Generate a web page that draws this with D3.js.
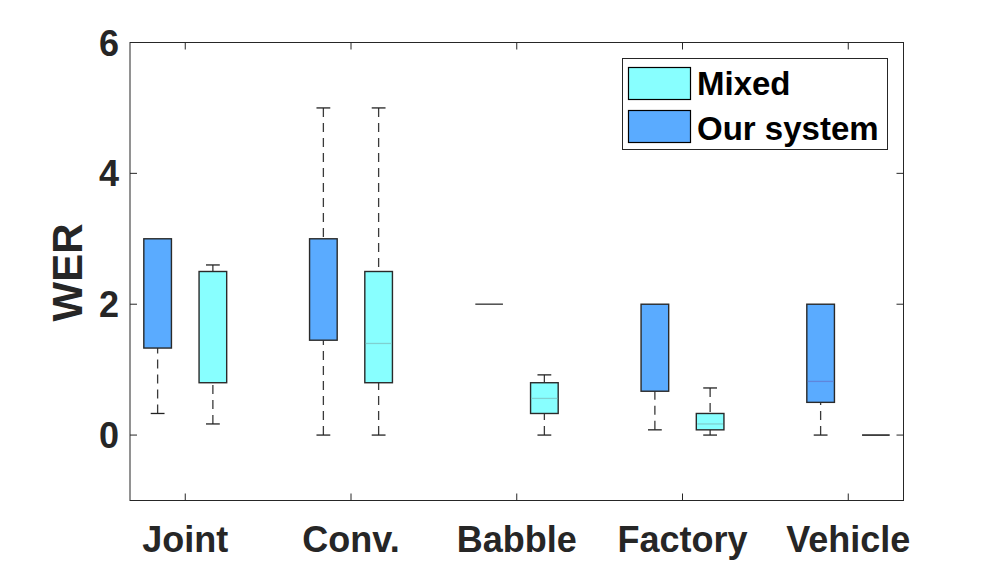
<!DOCTYPE html>
<html><head><meta charset="utf-8">
<script src="https://cdn.jsdelivr.net/npm/d3@7"></script>
<style>body{margin:0;background:#fff}svg{display:block}text{font-family:"Liberation Sans",Arial,sans-serif;font-weight:bold}</style>
</head><body>
<svg id="c" width="1000" height="563"></svg>
<script>
const categories = ["Joint", "Conv.", "Babble", "Factory", "Vehicle"];
const seriesNames = ["Our system", "Mixed"];
const legendOrder = ["Mixed", "Our system"];
// Our system
const ourLow  = [0.33, 0.00, 2.00, 0.08, 0.00];
const ourQ1   = [1.33, 1.45, 2.00, 0.67, 0.50];
const ourMed  = [3.00, 3.00, 2.00, 2.00, 0.82];
const ourQ3   = [3.00, 3.00, 2.00, 2.00, 2.00];
const ourHigh = [3.00, 5.00, 2.00, 2.00, 2.00];
// Mixed
const mixLow  = [0.17, 0.00, 0.00, 0.00, 0.00];
const mixQ1   = [0.80, 0.80, 0.33, 0.08, 0.00];
const mixMed  = [0.80, 1.40, 0.56, 0.17, 0.00];
const mixQ3   = [2.50, 2.50, 0.80, 0.33, 0.00];
const mixHigh = [2.60, 5.00, 0.92, 0.72, 0.00];
const yTicks = [0, 2, 4, 6];

const colors = {"Our system": "#5aabff", "Mixed": "#88ffff"};
const medColors = {"Our system": "#5f86dc", "Mixed": "#7fd0d0"};

const svg = d3.select("#c");
const L = 130, R = 903.5, T = 42.5, B = 500.5;
const x = d3.scaleLinear().domain([0.5, 14.5]).range([L, R]);
const y = d3.scaleLinear().domain([-1, 6]).range([B, T]);

const boxes = [];
categories.forEach((c, i) => {
  boxes.push({s: "Our system", pos: i * 3 + 1, lo: ourLow[i], q1: ourQ1[i], med: ourMed[i], q3: ourQ3[i], hi: ourHigh[i]});
  boxes.push({s: "Mixed", pos: i * 3 + 2, lo: mixLow[i], q1: mixQ1[i], med: mixMed[i], q3: mixQ3[i], hi: mixHigh[i]});
});

const bw = x(0.5) - x(0), cw = x(0.25) - x(0);
const g = svg.append("g");
boxes.forEach(b => {
  const cx = x(b.pos);
  const wcol = "#3a3a3a";
  if (b.hi > b.q3) {
    g.append("line").attr("x1", cx).attr("x2", cx).attr("y1", y(b.hi)).attr("y2", y(b.q3))
      .attr("stroke", wcol).attr("stroke-width", 1.3).attr("stroke-dasharray", "9,6");
    g.append("line").attr("x1", cx - cw / 2).attr("x2", cx + cw / 2).attr("y1", y(b.hi)).attr("y2", y(b.hi))
      .attr("stroke", "#222").attr("stroke-width", 1.3);
  }
  if (b.lo < b.q1) {
    g.append("line").attr("x1", cx).attr("x2", cx).attr("y1", y(b.lo)).attr("y2", y(b.q1))
      .attr("stroke", wcol).attr("stroke-width", 1.3).attr("stroke-dasharray", "9,6");
    g.append("line").attr("x1", cx - cw / 2).attr("x2", cx + cw / 2).attr("y1", y(b.lo)).attr("y2", y(b.lo))
      .attr("stroke", "#222").attr("stroke-width", 1.3);
  }
  if (b.q3 > b.q1) {
    g.append("rect").attr("x", cx - bw / 2).attr("width", bw).attr("y", y(b.q3)).attr("height", y(b.q1) - y(b.q3))
      .attr("fill", colors[b.s]).attr("stroke", "#2a2a2a").attr("stroke-width", 1.4);
    if (b.med > b.q1 && b.med < b.q3) {
      g.append("line").attr("x1", cx - bw / 2 + 1).attr("x2", cx + bw / 2 - 1).attr("y1", y(b.med)).attr("y2", y(b.med))
        .attr("stroke", medColors[b.s]).attr("stroke-width", 1.3);
    }
  } else {
    g.append("line").attr("x1", cx - bw / 2).attr("x2", cx + bw / 2).attr("y1", y(b.med)).attr("y2", y(b.med))
      .attr("stroke", b.s === "Our system" ? "#555" : "#222").attr("stroke-width", 1.6);
  }
});

// axes box
const ax = svg.append("g").attr("stroke", "#262626").attr("stroke-width", 1).attr("fill", "none");
ax.append("rect").attr("x", L).attr("y", T).attr("width", R - L).attr("height", B - T);
const xt = categories.map((c, i) => i * 3 + 1.5);
xt.forEach(t => {
  ax.append("line").attr("x1", x(t)).attr("x2", x(t)).attr("y1", B).attr("y2", B - 7);
  ax.append("line").attr("x1", x(t)).attr("x2", x(t)).attr("y1", T).attr("y2", T + 7);
});
yTicks.forEach(t => {
  ax.append("line").attr("x1", L).attr("x2", L + 7).attr("y1", y(t)).attr("y2", y(t));
  ax.append("line").attr("x1", R).attr("x2", R - 7).attr("y1", y(t)).attr("y2", y(t));
});

// tick labels
svg.append("g").selectAll("text").data(yTicks).join("text")
  .attr("x", 119).attr("y", d => y(d) + 13).attr("text-anchor", "end")
  .attr("font-size", 36).attr("fill", "#262626").text(d => d);
svg.append("g").selectAll("text").data(categories).join("text")
  .attr("x", (d, i) => x(xt[i])).attr("y", 552).attr("text-anchor", "middle")
  .attr("font-size", 36).attr("fill", "#262626").text(d => d);
svg.append("text").attr("transform", `translate(82,${(T + B) / 2 + 1}) rotate(-90)`)
  .attr("text-anchor", "middle").attr("font-size", 42).attr("fill", "#262626").text("WER");

// legend
const lg = svg.append("g");
lg.append("rect").attr("x", 622.5).attr("y", 58.5).attr("width", 265).attr("height", 91)
  .attr("fill", "#fff").attr("stroke", "#262626").attr("stroke-width", 1);
legendOrder.forEach((s, i) => {
  lg.append("rect").attr("x", 628.5).attr("y", 67.5 + i * 43).attr("width", 62).attr("height", 32)
    .attr("fill", colors[s]).attr("stroke", "#000").attr("stroke-width", 1.2);
  lg.append("text").attr("x", 697).attr("y", 95 + i * 44.5).attr("font-size", 33).attr("fill", "#000").text(s);
});
</script>
</body></html>
